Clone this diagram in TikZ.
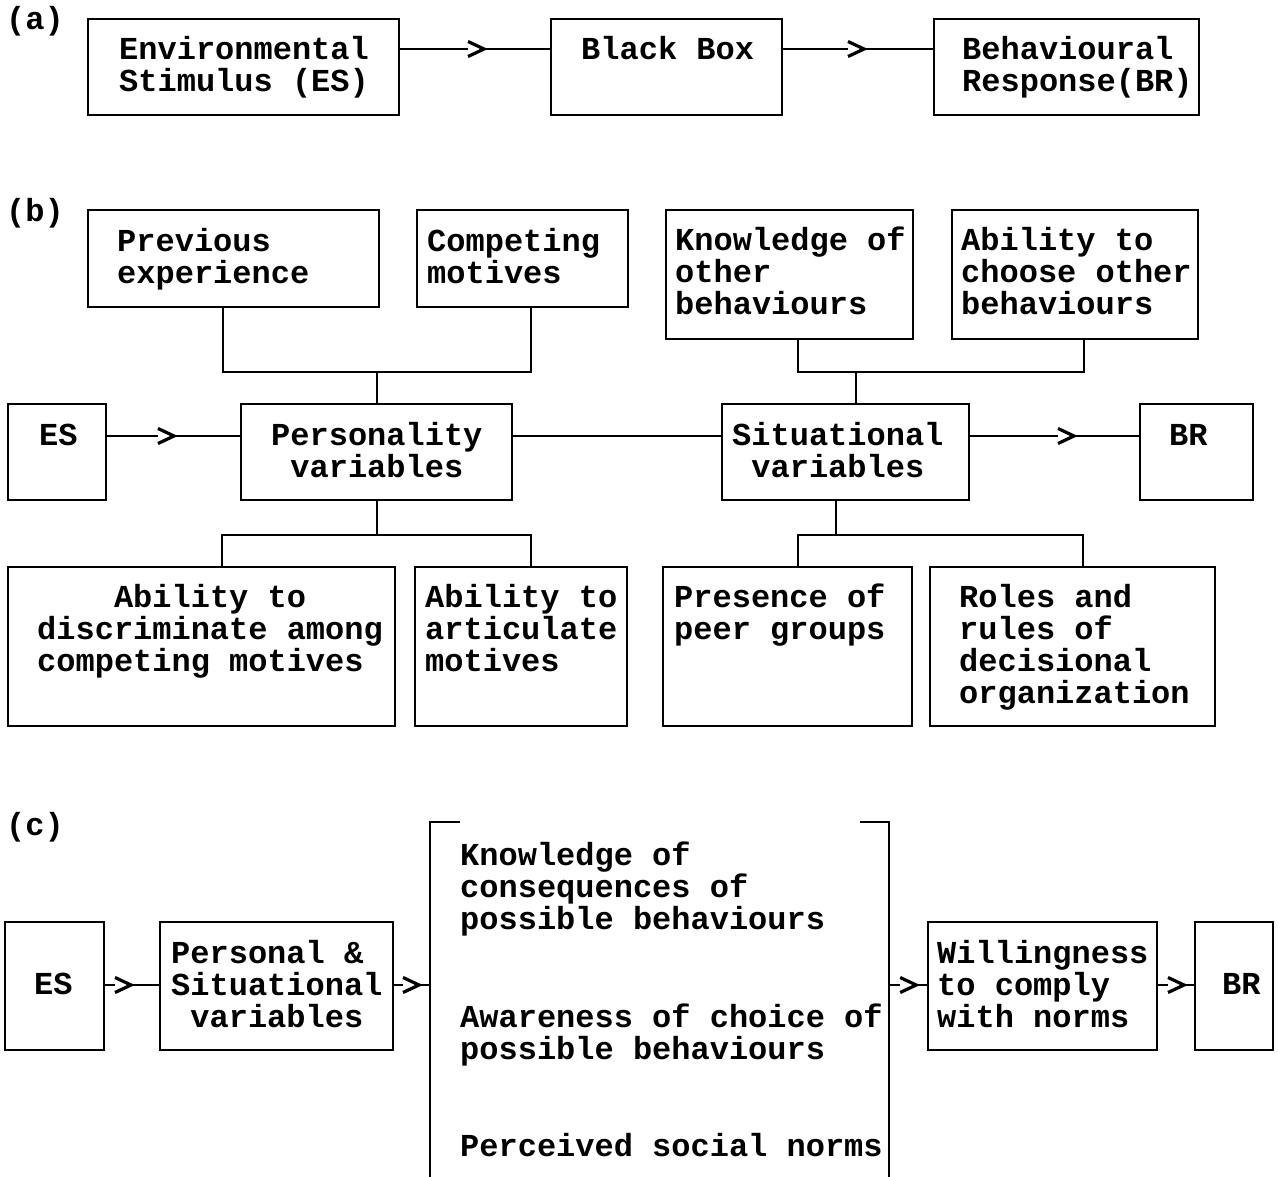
\documentclass[tikz,border=0pt]{standalone}
\usepackage{fontspec}
\setmainfont{Liberation Mono}[BoldFont={Liberation Mono Bold}]
\usetikzlibrary{fit,decorations.markings}

\newcommand{\indentby}[1]{\phantom{#1}}
% fixed height of a first line, so that every text block hangs from it
\newcommand{\fl}{\rule{0pt}{28pt}}

% text nodes are placed by the baseline of their first line:
% the node top sits 28pt above that baseline
\tikzset{
  box/.style={draw, line width=2pt, inner sep=0pt, rectangle},
  txt/.style={anchor=north west, inner sep=0pt, align=left, yshift=28pt,
              font=\fontsize{32}{32}\selectfont\bfseries},
  wire/.style={line width=2pt},
  flow/.style={line width=2pt, postaction={decorate},
    decoration={markings, mark=at position #1 with {
      \fill[white] (-8,-8) -- (8,0) -- (-8,8) -- cycle;
      \draw[line width=3.2pt, line cap=butt, miter limit=10]
        (-8,-7.5) -- (8,0) -- (-8,7.5);}}}
}

\begin{document}
\begin{tikzpicture}[x=1pt, y=-1pt]
\useasboundingbox (0,0) rectangle (1278,1177);
\fill[white] (0,0) rectangle (1278,1177);

% ---------------- (a) ----------------
\node[txt] (la) at (6,29) {\fl(a)};
\node[box, fit={(88,19) (399,115)}] (esA) {};
\node[box, fit={(551,19) (782,115)}] (bbA) {};
\node[box, fit={(934,19) (1199,115)}] (brA) {};
\node[txt] (tesA) at (119,59) {\fl Environmental\\Stimulus (ES)};
\node[txt] (tbbA) at (581,59) {\fl Black Box};
\node[txt] (tbrA) at (962,59) {\fl Behavioural\\Response(BR)};
\draw[flow=76pt] (esA.east |- 0,49) -- (bbA.west |- 0,49);
\draw[flow=73pt] (bbA.east |- 0,49) -- (brA.west |- 0,49);

% ---------------- (b) ----------------
\node[txt] (lb) at (6,221) {\fl(b)};
\node[box, fit={(88,210) (379,307)}] (prev) {};
\node[box, fit={(417,210) (628,307)}] (comp) {};
\node[box, fit={(666,210) (913,339)}] (know) {};
\node[box, fit={(952,210) (1198,339)}] (choo) {};
\node[box, fit={(8,404) (106,500)}] (esB) {};
\node[box, fit={(241,404) (512,500)}] (pers) {};
\node[box, fit={(722,404) (969,500)}] (situ) {};
\node[box, fit={(1140,404) (1253,500)}] (brB) {};
\node[box, fit={(8,567) (395,726)}] (disc) {};
\node[box, fit={(415,567) (627,726)}] (arti) {};
\node[box, fit={(663,567) (912,726)}] (peer) {};
\node[box, fit={(930,567) (1215,726)}] (role) {};

\node[txt] (tprev) at (117,251) {\fl Previous\\experience};
\node[txt] (tcomp) at (427,251) {\fl Competing\\motives};
\node[txt] (tknow) at (675,250) {\fl Knowledge of\\other\\behaviours};
\node[txt] (tchoo) at (961,250) {\fl Ability to\\choose other\\behaviours};
\node[txt] (tesB) at (39,445) {\fl ES};
\node[txt] (tpers) at (271,445) {\fl Personality\\\indentby{x}variables};
\node[txt] (tsitu) at (732,445) {\fl Situational\\\indentby{x}variables};
\node[txt] (tbrB) at (1169,445) {\fl BR};
\node[txt] (tdisc) at (37,607) {\fl\indentby{xxxx}Ability to\\discriminate among\\competing motives};
\node[txt] (tarti) at (425,607) {\fl Ability to\\articulate\\motives};
\node[txt] (tpeer) at (674,607) {\fl Presence of\\peer groups};
\node[txt] (trole) at (959,607) {\fl Roles and\\rules of\\decisional\\organization};

% upper trees
\draw[wire] (prev.south -| 223,0) -- (223,372) -| (comp.south -| 531,0);
\draw[wire] (pers.north -| 377,0) -- (377,372);
\draw[wire] (know.south -| 798,0) -- (798,372) -| (choo.south -| 1084,0);
\draw[wire] (situ.north -| 856,0) -- (856,372);
% lower trees
\draw[wire] (pers.south -| 377,0) -- (377,535);
\draw[wire] (disc.north -| 222,0) -- (222,535) -| (arti.north -| 531,0);
\draw[wire] (situ.south -| 836,0) -- (836,535);
\draw[wire] (peer.north -| 798,0) -- (798,535) -| (role.north -| 1083,0);
% main chain
\draw[flow=59pt] (esB.east |- 0,436) -- (pers.west |- 0,436);
\draw[wire] (pers.east |- 0,436) -- (situ.west |- 0,436);
\draw[flow=96pt] (situ.east |- 0,436) -- (brB.west |- 0,436);

% ---------------- (c) ----------------
\node[txt] (lc) at (6,835) {\fl(c)};
\node[box, fit={(5,922) (104,1050)}] (esC) {};
\node[box, fit={(160,922) (393,1050)}] (psv) {};
\node[inner sep=0pt, fit={(430,822) (889,1180)}] (brk) {};
\node[box, fit={(928,922) (1157,1050)}] (will) {};
\node[box, fit={(1195,922) (1273,1050)}] (brC) {};

\draw[wire] ([xshift=30pt]brk.north west) -- (brk.north west) -- (brk.south west);
\draw[wire] ([xshift=-29pt]brk.north east) -- (brk.north east) -- (brk.south east);

\node[txt] (tesC) at (34,994) {\fl ES};
\node[txt] (tpsv) at (171,963) {\fl Personal \&\\Situational\\\indentby{x}variables};
\node[txt] (tk1) at (460,865) {\fl Knowledge of\\consequences of\\possible behaviours};
\node[txt] (tk2) at (460,1027) {\fl Awareness of choice of\\possible behaviours};
\node[txt] (tk3) at (460,1156) {\fl Perceived social norms};
\node[txt] (twill) at (937,963) {\fl Willingness\\to comply\\with norms};
\node[txt] (tbrC) at (1222,994) {\fl BR};

\draw[flow=18pt] (esC.east |- 0,985) -- (psv.west |- 0,985);
\draw[flow=17pt] (psv.east |- 0,985) -- (brk.west |- 0,985);
\draw[flow=19pt] (brk.east |- 0,985) -- (will.west |- 0,985);
\draw[flow=18pt] (will.east |- 0,985) -- (brC.west |- 0,985);
\end{tikzpicture}
\end{document}
